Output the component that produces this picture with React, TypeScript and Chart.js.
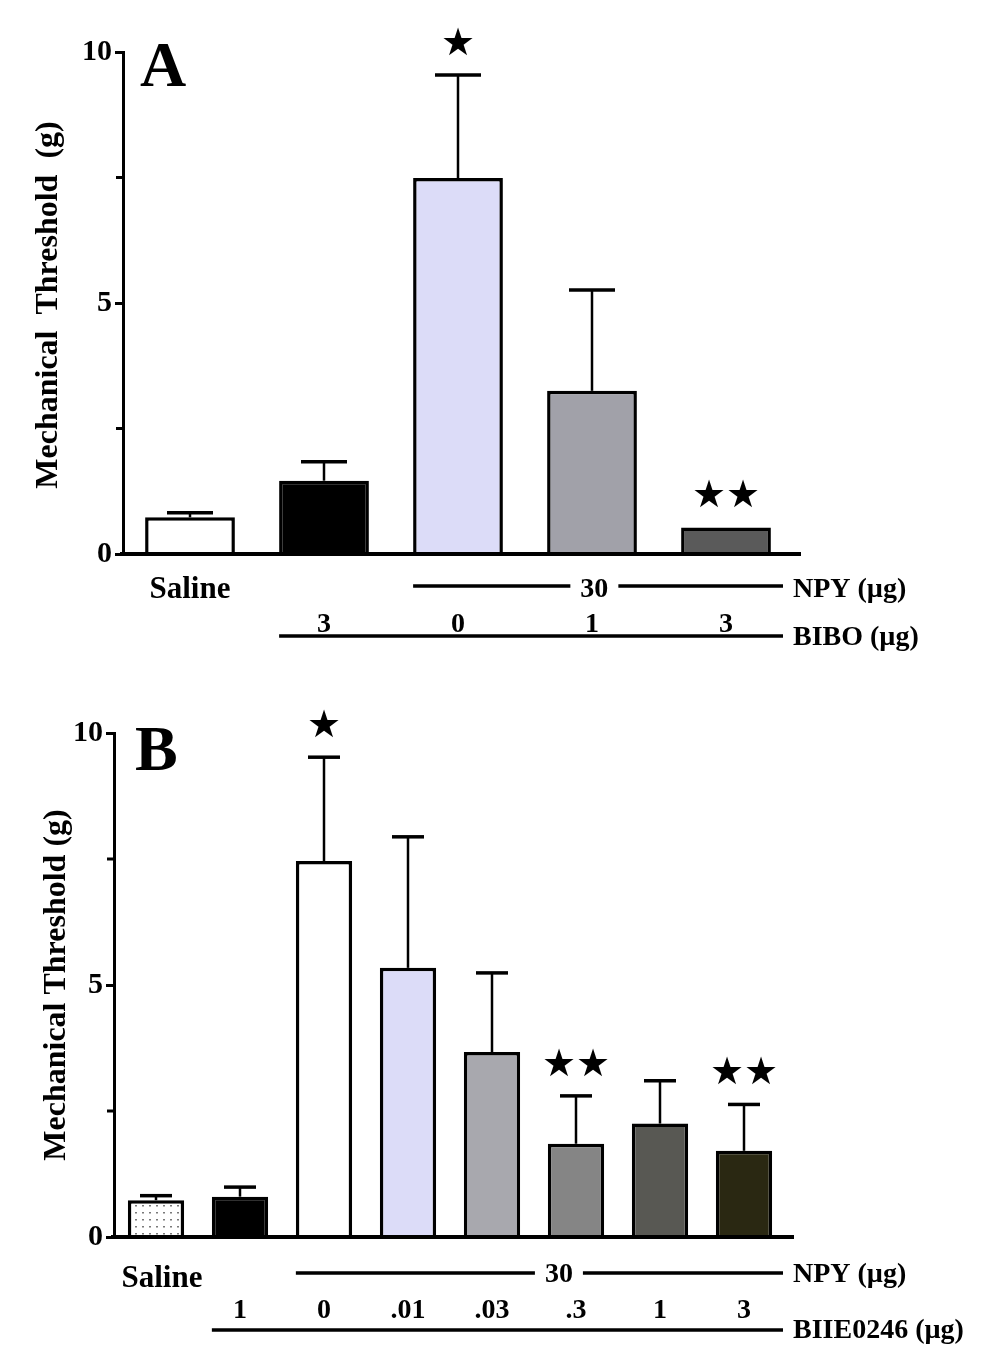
import React, { useEffect, useRef } from 'react';
import { Chart, registerables } from 'chart.js';

Chart.register(...registerables);

// ---------------- Panel A data ----------------
const categoriesA = ['Saline', 'BIBO 3', 'NPY 30 + BIBO 0', 'NPY 30 + BIBO 1', 'NPY 30 + BIBO 3'];
const meansA = [0.73, 1.46, 7.49, 3.25, 0.53];
const upperA = [0.82, 1.84, 9.54, 5.26, 0.53];
const starsA = ['', '', '★', '', '★★'];
const doseRowA = ['', '3', '0', '1', '3'];
const colorsA = ['#ffffff', '#000000', '#dcdcf8', '#a1a1a9', '#5a5a5a'];

// ---------------- Panel B data ----------------
const categoriesB = [
  'Saline',
  'BIIE0246 1',
  'NPY 30 + BIIE0246 0',
  'NPY 30 + BIIE0246 .01',
  'NPY 30 + BIIE0246 .03',
  'NPY 30 + BIIE0246 .3',
  'NPY 30 + BIIE0246 1',
  'NPY 30 + BIIE0246 3',
];
const meansB = [0.73, 0.8, 7.46, 5.34, 3.67, 1.85, 2.25, 1.71];
const upperB = [0.82, 0.99, 9.52, 7.94, 5.24, 2.8, 3.1, 2.63];
const starsB = ['', '', '★', '', '', '★★', '', '★★'];
const doseRowB = ['', '1', '0', '.01', '.03', '.3', '1', '3'];
const colorsB = ['PATTERN', '#000000', '#ffffff', '#dcdcf8', '#a8a8ae', '#858585', '#585853', '#2a2812'];

const yTickStep = 5;
const yMinorTicks = [2.5, 7.5];
const npyDose = '30';
const yTitleA = 'Mechanical  Threshold  (g)';
const yTitleB = 'Mechanical Threshold (g)';

const SERIF = '"Liberation Serif", "Times New Roman", serif';

type Panel = {
  letter: string;
  letterX: number;
  letterY: number;
  categories: string[];
  means: number[];
  upper: number[];
  stars: string[];
  doses: string[];
  colors: string[];
  cap: number;
  padding: { left: number; top: number; right: number; bottom: number };
  yWidth: number;
  yTitle: string;
  yTitleX: number;
  yTitleY: number;
  salineDy: number;
  salineDx: number;
  npyLineDy: number;
  npyTextDy: number;
  npyStart: number;
  npyFrac: number;
  doseDy: number;
  drugLineDy: number;
  drugTextDy: number;
  drugStart: number;
  drugLabel: string;
  lineEnd: number;
};

const panelA: Panel = {
  letter: 'A',
  letterX: 140,
  letterY: 86,
  categories: categoriesA,
  means: meansA,
  upper: upperA,
  stars: starsA,
  doses: doseRowA,
  colors: colorsA,
  cap: 46,
  padding: { left: 0, top: 52, right: 189, bottom: 130 },
  yWidth: 123,
  yTitle: yTitleA,
  yTitleX: 49,
  yTitleY: 305,
  salineDy: 44,
  salineDx: 0,
  npyLineDy: 32,
  npyTextDy: 43,
  npyStart: 2,
  npyFrac: 0.49,
  doseDy: 78,
  drugLineDy: 82,
  drugTextDy: 91,
  drugStart: 1,
  drugLabel: 'BIBO (µg)',
  lineEnd: 783,
};

const panelB: Panel = {
  letter: 'B',
  letterX: 135,
  letterY: 86,
  categories: categoriesB,
  means: meansB,
  upper: upperB,
  stars: starsB,
  doses: doseRowB,
  colors: colorsB,
  cap: 32,
  padding: { left: 0, top: 49, right: 196, bottom: 131 },
  yWidth: 114,
  yTitle: yTitleB,
  yTitleX: 57,
  yTitleY: 301,
  salineDy: 50,
  salineDx: 6,
  npyLineDy: 36,
  npyTextDy: 45,
  npyStart: 2,
  npyFrac: 0.54,
  doseDy: 81,
  drugLineDy: 93,
  drugTextDy: 101,
  drugStart: 1,
  drugLabel: 'BIIE0246 (µg)',
  lineEnd: 783,
};

function makePattern(): CanvasPattern | string {
  const c = document.createElement('canvas');
  c.width = 7;
  c.height = 7;
  const g = c.getContext('2d');
  if (!g) return '#ffffff';
  g.fillStyle = '#ffffff';
  g.fillRect(0, 0, 7, 7);
  g.fillStyle = '#7a7a7a';
  g.fillRect(2, 3, 2, 1.5);
  return g.createPattern(c, 'repeat') || '#ffffff';
}

function decorPlugin(p: Panel) {
  return {
    id: 'decor' + p.letter,
    afterDatasetsDraw(chart: any) {
      const ctx: CanvasRenderingContext2D = chart.ctx;
      const ys = chart.scales.y;
      const meta = chart.getDatasetMeta(0);
      const ca = chart.chartArea;
      const y0 = ys.getPixelForValue(0);
      ctx.save();
      ctx.strokeStyle = '#000';
      ctx.fillStyle = '#000';
      ctx.lineCap = 'butt';

      // error bars and stars
      p.means.forEach((m, i) => {
        const bar = meta.data[i];
        const cx = bar.x;
        const yTop = ys.getPixelForValue(m);
        const yErr = ys.getPixelForValue(p.upper[i]);
        if (p.upper[i] > m) {
          ctx.lineWidth = 2.5;
          ctx.beginPath();
          ctx.moveTo(cx, yTop);
          ctx.lineTo(cx, yErr);
          ctx.stroke();
          ctx.lineWidth = 3.5;
          ctx.beginPath();
          ctx.moveTo(cx - p.cap / 2, yErr);
          ctx.lineTo(cx + p.cap / 2, yErr);
          ctx.stroke();
        }
        if (p.stars[i]) {
          ctx.font = '38px "DejaVu Sans"';
          ctx.textAlign = 'center';
          ctx.textBaseline = 'middle';
          ctx.fillText(p.stars[i], cx, yErr - 30);
        }
      });

      // x baseline
      ctx.lineWidth = 4;
      ctx.beginPath();
      ctx.moveTo(ca.left - 3, y0);
      ctx.lineTo(ca.right + 8, y0);
      ctx.stroke();

      // minor y ticks
      ctx.lineWidth = 3;
      yMinorTicks.forEach((v) => {
        const yy = ys.getPixelForValue(v);
        ctx.beginPath();
        ctx.moveTo(ca.left - 7, yy);
        ctx.lineTo(ca.left, yy);
        ctx.stroke();
      });

      // panel letter
      ctx.font = `bold 64px ${SERIF}`;
      ctx.textAlign = 'left';
      ctx.textBaseline = 'alphabetic';
      ctx.fillText(p.letter, p.letterX, p.letterY);

      // y title
      ctx.save();
      ctx.translate(p.yTitleX, p.yTitleY);
      ctx.rotate(-Math.PI / 2);
      ctx.font = `bold 32px ${SERIF}`;
      ctx.textAlign = 'center';
      ctx.textBaseline = 'middle';
      ctx.fillText(p.yTitle, 0, 0);
      ctx.restore();

      // Saline label
      const b0 = meta.data[0];
      ctx.font = `bold 31px ${SERIF}`;
      ctx.textAlign = 'center';
      ctx.textBaseline = 'alphabetic';
      ctx.fillText(p.categories[0], b0.x + p.salineDx, y0 + p.salineDy);

      // NPY row
      const bs = meta.data[p.npyStart];
      const lx0 = bs.x - bs.width / 2;
      const lx1 = p.lineEnd;
      const tx = lx0 + (lx1 - lx0) * p.npyFrac;
      ctx.font = `bold 28px ${SERIF}`;
      const tw = ctx.measureText(npyDose).width;
      ctx.lineWidth = 3.5;
      ctx.beginPath();
      ctx.moveTo(lx0, y0 + p.npyLineDy);
      ctx.lineTo(tx - tw / 2 - 10, y0 + p.npyLineDy);
      ctx.moveTo(tx + tw / 2 + 10, y0 + p.npyLineDy);
      ctx.lineTo(lx1, y0 + p.npyLineDy);
      ctx.stroke();
      ctx.textAlign = 'center';
      ctx.fillText(npyDose, tx, y0 + p.npyTextDy);
      ctx.textAlign = 'left';
      ctx.fillText('NPY (µg)', lx1 + 10, y0 + p.npyTextDy);

      // dose row
      ctx.textAlign = 'center';
      p.doses.forEach((d, i) => {
        if (!d) return;
        ctx.fillText(d, meta.data[i].x, y0 + p.doseDy);
      });

      // drug line
      const bd = meta.data[p.drugStart];
      ctx.lineWidth = 3.5;
      ctx.beginPath();
      ctx.moveTo(bd.x - bd.width / 2, y0 + p.drugLineDy);
      ctx.lineTo(lx1, y0 + p.drugLineDy);
      ctx.stroke();
      ctx.textAlign = 'left';
      ctx.fillText(p.drugLabel, lx1 + 10, y0 + p.drugTextDy);

      ctx.restore();
    },
  };
}

function buildChart(canvas: HTMLCanvasElement, p: Panel) {
  const pattern = makePattern();
  const bg = p.colors.map((c) => (c === 'PATTERN' ? pattern : c));
  return new Chart(canvas, {
    type: 'bar',
    data: {
      labels: p.categories,
      datasets: [
        {
          data: p.means,
          backgroundColor: bg as any,
          borderColor: '#000000',
          borderWidth: 3.5,
          barPercentage: 0.67,
          categoryPercentage: 1,
        },
      ],
    },
    options: {
      responsive: false,
      animation: false,
      layout: { padding: p.padding },
      plugins: {
        legend: { display: false },
        tooltip: { enabled: false },
        title: { display: false },
      },
      scales: {
        x: {
          display: false,
          offset: true,
        },
        y: {
          min: 0,
          max: 10,
          afterFit: (s: any) => {
            s.width = p.yWidth;
          },
          ticks: {
            stepSize: yTickStep,
            padding: 3,
            color: '#000',
            font: { family: SERIF, size: 30, weight: 'bold' },
          },
          grid: {
            drawOnChartArea: false,
            drawTicks: true,
            tickLength: 8,
            lineWidth: 3,
            color: '#000',
          },
          border: { display: true, width: 3, color: '#000' },
        },
      },
    },
    plugins: [decorPlugin(p)],
  } as any);
}

function PanelChart({ panel, top }: { panel: Panel; top: number }) {
  const ref = useRef<HTMLCanvasElement | null>(null);
  useEffect(() => {
    if (!ref.current) return;
    const chart = buildChart(ref.current, panel);
    return () => chart.destroy();
  }, [panel]);
  return (
    <canvas
      ref={ref}
      width={982}
      height={684}
      style={{ position: 'absolute', left: 0, top, width: 982, height: 684 }}
    />
  );
}

export default function App() {
  return (
    <div style={{ position: 'absolute', left: 0, top: 0, width: 982, height: 1368, background: '#fff' }}>
      <PanelChart panel={panelA} top={0} />
      <PanelChart panel={panelB} top={684} />
    </div>
  );
}
